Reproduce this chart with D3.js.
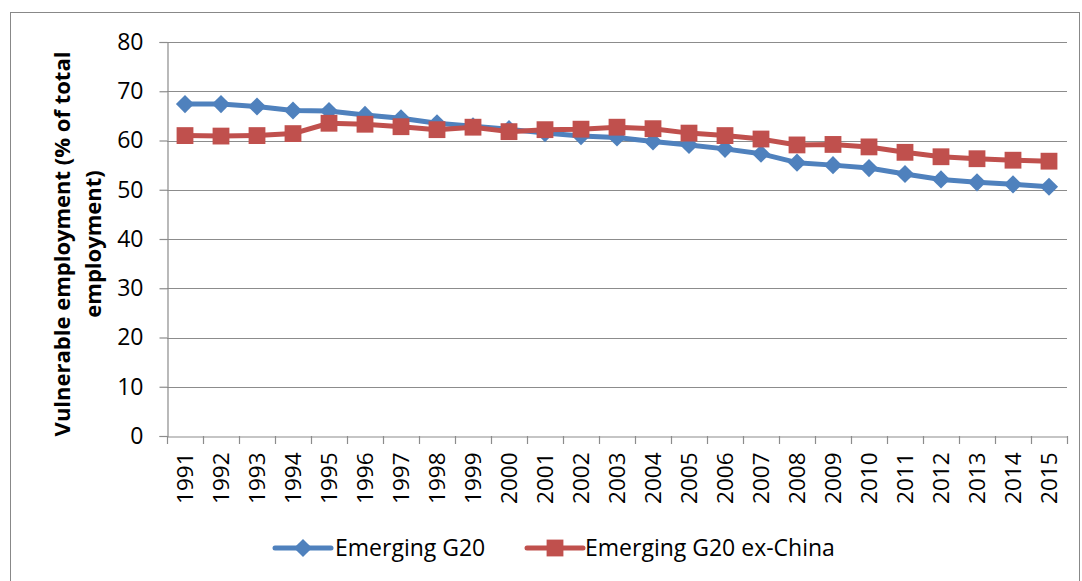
<!DOCTYPE html>
<html><head><meta charset="utf-8">
<script src="https://cdn.jsdelivr.net/npm/d3@7"></script>
<style>body{margin:0;background:#fff;} text{font-family:"Open Sans",sans-serif;}</style>
</head><body>
<svg id="c" width="1082" height="581"></svg>
<script>
const years = ["1991","1992","1993","1994","1995","1996","1997","1998","1999","2000","2001","2002","2003","2004","2005","2006","2007","2008","2009","2010","2011","2012","2013","2014","2015"];
const emergingG20 = [67.4,67.4,66.9,66.1,66.0,65.2,64.5,63.5,62.9,62.3,61.5,60.9,60.6,59.8,59.1,58.3,57.3,55.5,55.0,54.4,53.2,52.1,51.5,51.1,50.6];
const emergingG20exChina = [61.0,60.9,61.0,61.4,63.5,63.3,62.8,62.2,62.7,61.8,62.2,62.3,62.7,62.4,61.5,61.0,60.3,59.1,59.2,58.7,57.6,56.7,56.3,56.0,55.8];
const yTicks = [0,10,20,30,40,50,60,70,80];
const seriesNames = ["Emerging G20","Emerging G20 ex-China"];
const colors = ["#4F81BD","#C0504D"];

const FONT = "'Open Sans',sans-serif";
const svg = d3.select("#c");
svg.append("rect").attr("x",10.5).attr("y",12.5).attr("width",1069).attr("height",580).attr("fill","#fff").attr("stroke","#888").attr("stroke-width",1);

const L=167, R=1067, T=42, B=436;
const x = d3.scaleBand().domain(years).range([L,R]);
const y = d3.scaleLinear().domain([0,80]).range([B,T]);

// gridlines
svg.append("g").selectAll("line").data(yTicks.filter(d=>d>0)).join("line")
  .attr("x1",L).attr("x2",R).attr("y1",d=>Math.round(y(d))+0.5).attr("y2",d=>Math.round(y(d))+0.5)
  .attr("stroke","#8c8c8c").attr("stroke-width",1.2);

// y axis
const ya = svg.append("g").attr("transform",`translate(${L+0.5},0)`)
  .call(d3.axisLeft(y).tickValues(yTicks).tickSize(8).tickPadding(16));
ya.select(".domain").attr("stroke","#8c8c8c").attr("stroke-width",1.2);
ya.selectAll(".tick line").attr("stroke","#8c8c8c").attr("stroke-width",1.2);
ya.selectAll("text").attr("font-size",23).attr("fill","#000").style("font-family",FONT);

// x axis
const xa = svg.append("g").attr("transform",`translate(0,${B+0.5})`)
  .call(d3.axisBottom(x).tickSize(0).tickPadding(0));
xa.select(".domain").attr("stroke","#8c8c8c").attr("stroke-width",1.2);
xa.selectAll(".tick text").attr("font-size",22.5).attr("fill","#000")
  .attr("transform","rotate(-90)").attr("text-anchor","end").attr("dx","-16").attr("dy","0.36em").attr("y",0)
  .style("font-family",FONT);
// boundary tick marks
svg.append("g").selectAll("line").data(d3.range(years.length+1)).join("line")
  .attr("x1",i=>Math.round(L+i*x.step())+0.5).attr("x2",i=>Math.round(L+i*x.step())+0.5)
  .attr("y1",B).attr("y2",B+8).attr("stroke","#8c8c8c").attr("stroke-width",1.2);

// axis title
const tt = svg.append("text").attr("transform",`translate(70,244) rotate(-90)`).attr("text-anchor","middle")
  .attr("font-size",22).attr("font-weight","bold").attr("fill","#000").style("font-family",FONT);
tt.append("tspan").attr("x",0).attr("dy",0).text("Vulnerable employment (% of total");
tt.append("tspan").attr("x",0).attr("dy",31).text("employment)");

const line = d3.line().x((d,i)=>x(years[i])+x.bandwidth()/2).y(d=>y(d));
const data = [emergingG20, emergingG20exChina];
const diamond = d3.symbol().type(d3.symbolDiamond2).size(210);
const square = d3.symbol().type(d3.symbolSquare2).size(360);

data.forEach((vals,si)=>{
  svg.append("path").datum(vals).attr("d",line).attr("fill","none").attr("stroke",colors[si]).attr("stroke-width",5).attr("stroke-linejoin","round");
  svg.append("g").selectAll("path").data(vals).join("path")
    .attr("transform",(d,i)=>`translate(${x(years[i])+x.bandwidth()/2},${y(d)})`)
    .attr("d", si===0?diamond:square).attr("fill",colors[si]);
});

// legend
const leg = [{x:275,tx:335},{x:527,tx:585}];
seriesNames.forEach((n,si)=>{
  const g = svg.append("g");
  const ly = 548;
  g.append("line").attr("x1",leg[si].x).attr("x2",leg[si].x+56).attr("y1",ly).attr("y2",ly).attr("stroke",colors[si]).attr("stroke-width",5).attr("stroke-linecap","round");
  g.append("path").attr("transform",`translate(${leg[si].x+28},${ly})`).attr("d", si===0?d3.symbol().type(d3.symbolDiamond2).size(210):d3.symbol().type(d3.symbolSquare2).size(360)).attr("fill",colors[si]);
  g.append("text").attr("x",leg[si].tx).attr("y",ly).attr("dy","0.36em").attr("font-size",23).attr("fill","#000").style("font-family",FONT).text(n);
});
</script>
</body></html>
